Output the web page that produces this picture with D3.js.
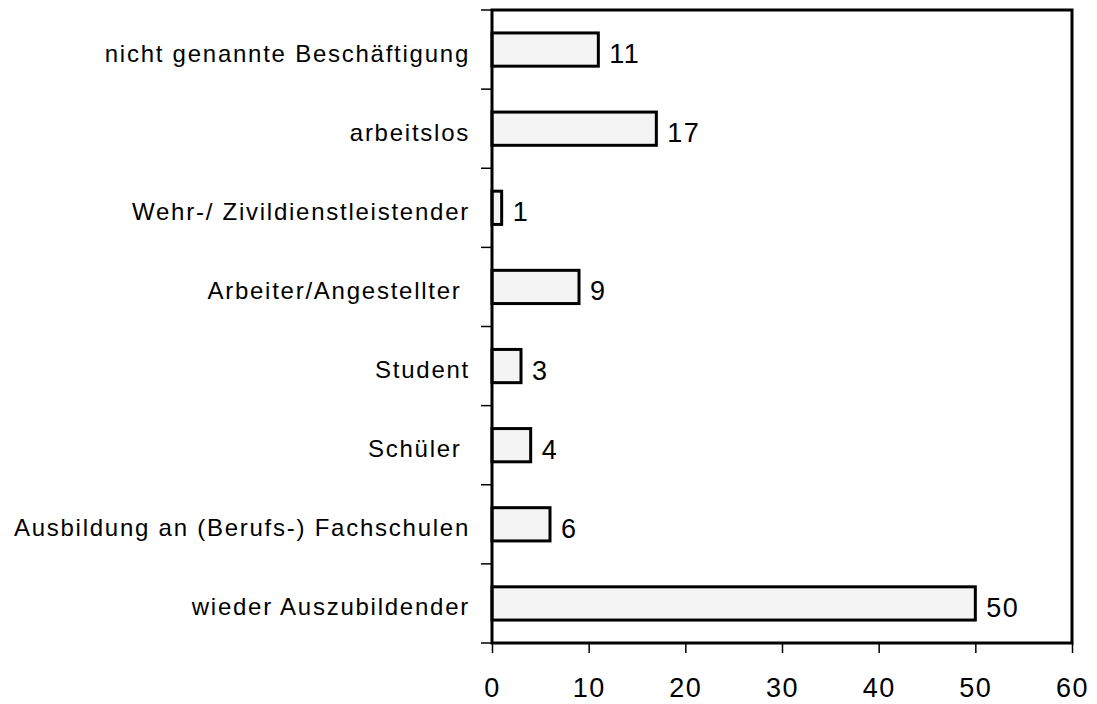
<!DOCTYPE html>
<html>
<head>
<meta charset="utf-8">
<script src="https://cdn.jsdelivr.net/npm/d3@7"></script>
<style>
  body { margin: 0; background: #fff; }
  svg text { font-family: "Liberation Sans", Arial, sans-serif; fill: #000; }
</style>
</head>
<body>
<div id="chart"></div>
<script>
// categories from top to bottom
const categories = [
    "nicht genannte Beschäftigung",
    "arbeitslos",
    "Wehr-/ Zivildienstleistender",
    "Arbeiter/Angestellter ",
    "Student",
    "Schüler ",
    "Ausbildung an (Berufs-) Fachschulen",
    "wieder Auszubildender"
];
const values = [11, 17, 1, 9, 3, 4, 6, 50];
const xTicks = [0, 10, 20, 30, 40, 50, 60];

const width = 1097, height = 704;
const margin = { top: 10, right: 25, bottom: 61, left: 492 };

const svg = d3.select("#chart")
    .append("svg")
    .attr("width", width)
    .attr("height", height);

const g = svg.append("g")
    .attr("transform", `translate(${margin.left},${margin.top})`);

const innerW = width - margin.left - margin.right;
const innerH = height - margin.top - margin.bottom;

// scales
const xScale = d3.scaleLinear()
    .domain([0, 60])
    .range([0, innerW]);

const yScale = d3.scaleBand()
    .domain(categories)
    .range([0, innerH])
    .paddingInner(0.58)
    .paddingOuter(0.29);

// bars
g.selectAll("rect.bar")
    .data(values)
    .enter()
    .append("rect")
    .attr("class", "bar")
    .attr("x", 0)
    .attr("y", (d, i) => yScale(categories[i]))
    .attr("width", d => xScale(d))
    .attr("height", yScale.bandwidth())
    .attr("fill", "#f4f4f4")
    .attr("stroke", "#000")
    .attr("stroke-width", 3);

// value labels
g.selectAll("text.val")
    .data(values)
    .enter()
    .append("text")
    .attr("class", "val")
    .text(d => d)
    .attr("x", d => xScale(d) + 11)
    .attr("y", (d, i) => yScale(categories[i]) + yScale.bandwidth() / 2)
    .attr("dy", "0.5em")
    .attr("font-size", "27px")
    .attr("letter-spacing", "1.5px");

// category labels
g.selectAll("text.cat")
    .data(categories)
    .enter()
    .append("text")
    .attr("class", "cat")
    .style("white-space", "pre")
    .text(d => d)
    .attr("x", -22)
    .attr("y", d => yScale(d) + yScale.bandwidth() / 2)
    .attr("dy", "0.5em")
    .attr("text-anchor", "end")
    .attr("font-size", "24px")
    .attr("letter-spacing", "1.75px");

// category tick marks (between bands)
const tickYs = d3.range(categories.length + 1).map(i => i * innerH / categories.length);
g.selectAll("line.ytick")
    .data(tickYs)
    .enter()
    .append("line")
    .attr("x1", -11).attr("x2", 0)
    .attr("y1", d => d).attr("y2", d => d)
    .attr("stroke", "#000")
    .attr("stroke-width", 1.5);

// x axis
const xAxis = g.append("g")
    .attr("transform", `translate(0,${innerH})`)
    .call(d3.axisBottom(xScale).tickValues(xTicks).tickSize(10).tickPadding(25));
xAxis.select(".domain").remove();
xAxis.selectAll("line").attr("stroke", "#000").attr("stroke-width", 1.5);
xAxis.selectAll("text")
    .attr("font-size", "27px")
    .attr("letter-spacing", "1.5px")
    .attr("font-family", "Liberation Sans, Arial, sans-serif");

// frame
g.append("rect")
    .attr("x", 0).attr("y", 0)
    .attr("width", innerW).attr("height", innerH)
    .attr("fill", "none")
    .attr("stroke", "#000")
    .attr("stroke-width", 3);
</script>
</body>
</html>
